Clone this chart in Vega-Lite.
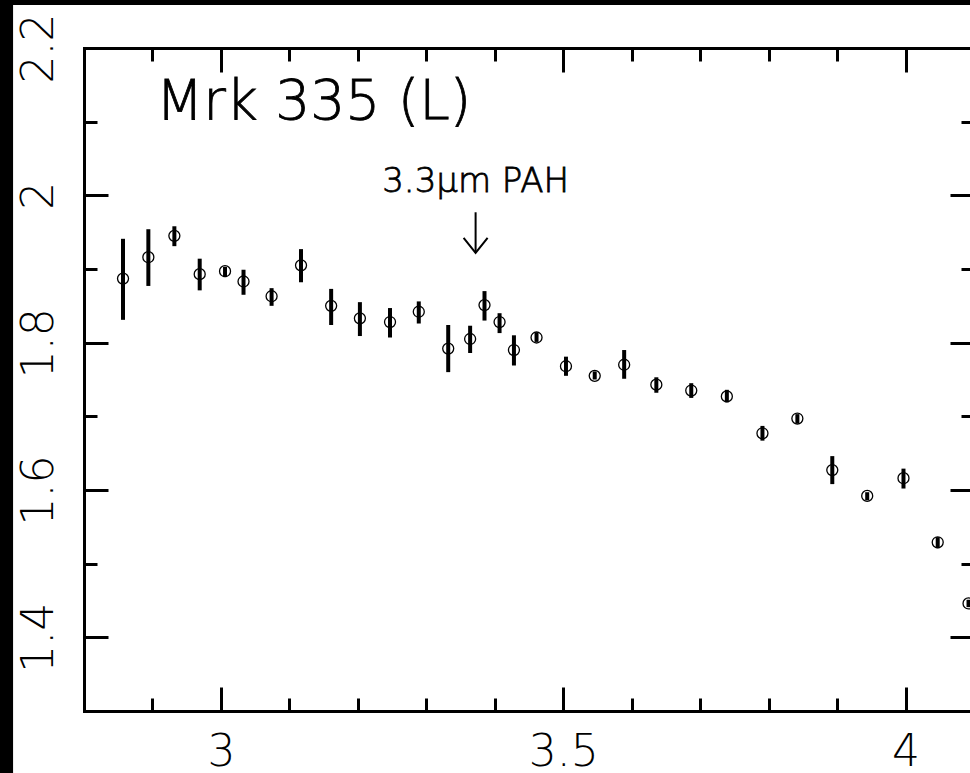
{
  "$schema": "https://vega.github.io/schema/vega-lite/v6.json",
  "width": 890,
  "height": 663,
  "autosize": "none",
  "padding": {"left": 84, "top": 48, "right": 0, "bottom": 62},
  "background": "black",
  "config": {
    "view": {"stroke": null},
    "font": "DejaVu Sans",
    "axis": {
      "grid": false, "title": null, "domainColor": "black", "tickColor": "black",
      "labelColor": "black", "labelFont": "DejaVu Sans", "labelFontWeight": 300,
      "labelFlush": false, "labelOverlap": false, "labelBound": false,
      "domainWidth": 3, "tickWidth": 3, "domainCap": "square"
    }
  },
  "datasets": {
    "pts": [
      {"wl": 2.857, "flux": 1.887, "lo": 1.831, "hi": 1.941},
      {"wl": 2.894, "flux": 1.916, "lo": 1.877, "hi": 1.954},
      {"wl": 2.932, "flux": 1.945, "lo": 1.931, "hi": 1.958},
      {"wl": 2.969, "flux": 1.893, "lo": 1.871, "hi": 1.914},
      {"wl": 3.006, "flux": 1.897, "lo": 1.889, "hi": 1.903},
      {"wl": 3.033, "flux": 1.883, "lo": 1.865, "hi": 1.899},
      {"wl": 3.074, "flux": 1.863, "lo": 1.850, "hi": 1.874},
      {"wl": 3.117, "flux": 1.905, "lo": 1.882, "hi": 1.927},
      {"wl": 3.161, "flux": 1.850, "lo": 1.824, "hi": 1.873},
      {"wl": 3.203, "flux": 1.833, "lo": 1.809, "hi": 1.855},
      {"wl": 3.247, "flux": 1.828, "lo": 1.807, "hi": 1.847},
      {"wl": 3.289, "flux": 1.842, "lo": 1.826, "hi": 1.856},
      {"wl": 3.332, "flux": 1.792, "lo": 1.760, "hi": 1.824},
      {"wl": 3.364, "flux": 1.805, "lo": 1.786, "hi": 1.823},
      {"wl": 3.385, "flux": 1.851, "lo": 1.830, "hi": 1.870},
      {"wl": 3.407, "flux": 1.828, "lo": 1.813, "hi": 1.840},
      {"wl": 3.428, "flux": 1.790, "lo": 1.769, "hi": 1.810},
      {"wl": 3.461, "flux": 1.807, "lo": 1.801, "hi": 1.814},
      {"wl": 3.504, "flux": 1.768, "lo": 1.755, "hi": 1.781},
      {"wl": 3.546, "flux": 1.755, "lo": 1.750, "hi": 1.761},
      {"wl": 3.589, "flux": 1.770, "lo": 1.751, "hi": 1.790},
      {"wl": 3.636, "flux": 1.743, "lo": 1.732, "hi": 1.753},
      {"wl": 3.687, "flux": 1.735, "lo": 1.725, "hi": 1.745},
      {"wl": 3.739, "flux": 1.727, "lo": 1.719, "hi": 1.736},
      {"wl": 3.791, "flux": 1.677, "lo": 1.667, "hi": 1.687},
      {"wl": 3.842, "flux": 1.697, "lo": 1.690, "hi": 1.703},
      {"wl": 3.893, "flux": 1.627, "lo": 1.608, "hi": 1.646},
      {"wl": 3.944, "flux": 1.592, "lo": 1.586, "hi": 1.597},
      {"wl": 3.997, "flux": 1.616, "lo": 1.602, "hi": 1.629},
      {"wl": 4.047, "flux": 1.529, "lo": 1.521, "hi": 1.536},
      {"wl": 4.092, "flux": 1.446, "lo": 1.441, "hi": 1.451}
    ],
    "frame": [{"x1": 2.6964, "x2": 4.3, "y1": 1.1, "y2": 2.2585}],
    "title": [{"wl": 2.905, "flux": 2.103, "label": "Mrk 335 (L)"}],
    "pah": [{"wl": 3.372, "flux": 2.004, "label": "3.3μm PAH"}],
    "arrow": [{"wl": 3.372, "top": 1.977, "tip": 1.922}]
  },
  "layer": [
    {
      "data": {"name": "frame"},
      "mark": {"type": "rect", "color": "white", "clip": false},
      "encoding": {
        "x": {"field": "x1", "type": "quantitative", "scale": {"domain": [2.8, 4.1], "nice": false, "zero": false}, "axis": null},
        "x2": {"field": "x2"},
        "y": {"field": "y1", "type": "quantitative", "scale": {"domain": [1.3, 2.2], "nice": false, "zero": false}, "axis": null},
        "y2": {"field": "y2"}
      }
    },
    {
      "data": {"name": "pts"},
      "mark": {"type": "rule", "color": "black", "strokeWidth": 4},
      "encoding": {
        "x": {"field": "wl", "type": "quantitative", "scale": {"domain": [2.8, 4.1], "nice": false, "zero": false},
          "axis": {"orient": "bottom", "zindex": 2, "values": [3, 3.5, 4], "format": "~g", "tickSize": -24, "labelFontSize": 44, "labelBaseline": "alphabetic", "labelPadding": 78, "labelAlign": "center", "domain": true}},
        "y": {"field": "lo", "type": "quantitative", "scale": {"domain": [1.3, 2.2], "nice": false, "zero": false},
          "axis": {"orient": "left", "zindex": 2, "values": [1.4, 1.6, 1.8, 2.0, 2.2], "format": "~g", "tickSize": -24, "labelFontSize": 44, "labelAngle": -90, "labelAlign": "center", "labelBaseline": "alphabetic", "labelPadding": 56, "domain": true}},
        "y2": {"field": "hi"}
      }
    },
    {
      "data": {"name": "pts"},
      "mark": {"type": "point", "shape": "circle", "filled": false, "color": "black", "strokeWidth": 1.3, "size": 121, "opacity": 1},
      "encoding": {
        "x": {"field": "wl", "type": "quantitative",
          "axis": {"orient": "bottom", "zindex": 2, "values": [2.8, 2.9, 3.1, 3.2, 3.3, 3.4, 3.6, 3.7, 3.8, 3.9, 4.1], "tickSize": -13, "labels": false, "domain": false}},
        "y": {"field": "flux", "type": "quantitative",
          "axis": {"orient": "left", "zindex": 2, "values": [1.3, 1.5, 1.7, 1.9, 2.1], "tickSize": -13, "labels": false, "domain": false}}
      }
    },
    {
      "data": {"name": "title"},
      "mark": {"type": "text", "align": "left", "baseline": "alphabetic", "fontSize": 55, "fontWeight": 300, "font": "DejaVu Sans", "color": "black", "stroke": "black", "strokeWidth": 0.8},
      "encoding": {
        "x": {"field": "wl", "type": "quantitative",
          "axis": {"orient": "top", "zindex": 2, "values": [3, 3.5, 4], "tickSize": -24, "labels": false, "domain": true}},
        "y": {"field": "flux", "type": "quantitative",
          "axis": {"orient": "right", "zindex": 2, "values": [1.4, 1.6, 1.8, 2.0, 2.2], "tickSize": -24, "labels": false, "domain": true}},
        "text": {"field": "label"}
      }
    },
    {
      "data": {"name": "pah"},
      "mark": {"type": "text", "align": "center", "baseline": "alphabetic", "fontSize": 34, "fontWeight": 300, "font": "DejaVu Sans", "color": "black", "stroke": "black", "strokeWidth": 0.8},
      "encoding": {
        "x": {"field": "wl", "type": "quantitative",
          "axis": {"orient": "top", "zindex": 2, "values": [2.8, 2.9, 3.1, 3.2, 3.3, 3.4, 3.6, 3.7, 3.8, 3.9, 4.1], "tickSize": -13, "labels": false, "domain": false}},
        "y": {"field": "flux", "type": "quantitative",
          "axis": {"orient": "right", "zindex": 2, "values": [1.3, 1.5, 1.7, 1.9, 2.1], "tickSize": -13, "labels": false, "domain": false}},
        "text": {"field": "label"}
      }
    },
    {
      "data": {"name": "arrow"},
      "mark": {"type": "rule", "color": "black", "strokeWidth": 2},
      "encoding": {
        "x": {"field": "wl", "type": "quantitative", "axis": null},
        "y": {"field": "top", "type": "quantitative", "axis": null},
        "y2": {"field": "tip"}
      }
    },
    {
      "data": {"name": "arrow"},
      "mark": {"type": "point", "shape": "M-1,-1.25L0,0L1,-1.25", "filled": false, "color": "black", "strokeWidth": 2, "size": 576, "opacity": 1},
      "encoding": {
        "x": {"field": "wl", "type": "quantitative", "axis": null},
        "y": {"field": "tip", "type": "quantitative", "axis": null}
      }
    }
  ],
  "resolve": {"axis": {"x": "independent", "y": "independent"}}
}
